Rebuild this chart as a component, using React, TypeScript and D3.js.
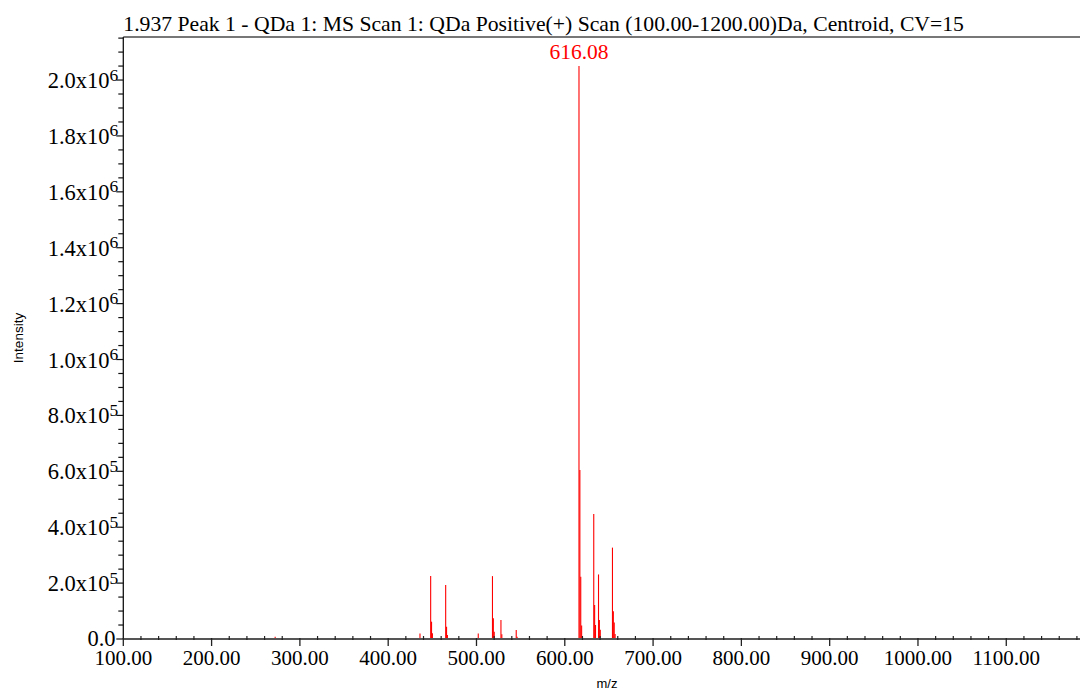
import React from "react";
import * as d3 from "d3";

const W = 1080;
const H = 691;

// Peak list: m/z and intensity (counts)
const peakMz = [
  272, 436, 448.1, 449.1, 450.1, 465.1, 466.1, 467.1, 502, 518.1, 519.1, 520.1,
  527.7, 528.7, 545, 546, 602, 616.08, 617.08, 618.08, 619.08, 620.08, 632.8,
  633.8, 634.8, 638.2, 639.2, 640.2, 654, 655, 656, 657, 676, 690, 692,
];
const peakIntensity = [
  8000, 20000, 225000, 62000, 21000, 193000, 44000, 14000, 20000, 225000, 74000,
  26000, 68000, 17000, 32000, 8000, 3000, 2050000, 605000, 223000, 48000, 8000,
  447000, 122000, 50000, 231000, 68000, 33000, 327000, 99000, 59000, 18000, 2000,
  3000, 3000,
];

const labeledPeak = "616.08";
const labeledPeakMz = 616.08;
const labeledPeakIntensity = 2050000;

const xMajorTicks = [100, 200, 300, 400, 500, 600, 700, 800, 900, 1000, 1100];
const xTickLabels = ["100.00", "200.00", "300.00", "400.00", "500.00", "600.00", "700.00", "800.00", "900.00", "1000.00", "1100.00"];
const yMajorTicks = [0, 200000, 400000, 600000, 800000, 1000000, 1200000, 1400000, 1600000, 1800000, 2000000];
const yTickBase = ["0.0", "2.0x10", "4.0x10", "6.0x10", "8.0x10", "1.0x10", "1.2x10", "1.4x10", "1.6x10", "1.8x10", "2.0x10"];
const yTickExp = ["", "5", "5", "5", "5", "6", "6", "6", "6", "6", "6"];

const title = "1.937 Peak 1 - QDa 1: MS Scan 1: QDa Positive(+) Scan (100.00-1200.00)Da, Centroid, CV=15";

const serif = "'Liberation Serif', 'Times New Roman', Times, serif";
const sans = "'Liberation Sans', Arial, Helvetica, sans-serif";

export default function App() {
  const left = 123.3;
  const right = 1080;
  const top = 37;
  const bottom = 639;

  const x = d3.scaleLinear().domain([100, 1183.5]).range([left, right]);
  const y = d3.scaleLinear().domain([0, 2154000]).range([bottom, top]);

  const xMinor = d3.range(100, 1184, 20).filter((v) => v % 100 !== 0);
  const yMinor = d3.range(0, 2150001, 50000).filter((v) => v % 200000 !== 0);

  return (
    <svg
      width={W}
      height={H}
      style={{ position: "absolute", left: 0, top: 0, background: "#fff" }}
    >
      {/* title */}
      <text x={left} y={31} fontFamily={serif} fontSize={21.7} fill="#000">
        {title}
      </text>
      {/* top border */}
      <line x1={left} x2={right} y1={top} y2={top} stroke="#777" strokeWidth={2} />

      {/* peaks */}
      <g>
        {peakMz.map((m, i) => (
          <line
            key={i}
            x1={x(m)}
            x2={x(m)}
            y1={y(0)}
            y2={y(peakIntensity[i])}
            stroke="#ff0000"
            strokeWidth={1.1}
          />
        ))}
      </g>
      <text
        x={x(labeledPeakMz)}
        y={y(labeledPeakIntensity) - 7.5}
        textAnchor="middle"
        fontFamily={serif}
        fontSize={21.5}
        fill="#ff0000"
      >
        {labeledPeak}
      </text>

      {/* y axis */}
      <line x1={left} x2={left} y1={top} y2={bottom} stroke="#111" strokeWidth={1.3} />
      {yMinor.map((v) => (
        <line key={"ym" + v} x1={left - 5} x2={left} y1={y(v)} y2={y(v)} stroke="#111" strokeWidth={1.2} />
      ))}
      {yMajorTicks.map((v, i) => (
        <g key={"yM" + v}>
          <line x1={left - 7} x2={left} y1={y(v)} y2={y(v)} stroke="#111" strokeWidth={1.2} />
          {yTickExp[i] ? (
            <>
              <text x={109.5} y={y(v) + 8} textAnchor="end" fontFamily={serif} fontSize={22.5} fill="#000">
                {yTickBase[i]}
              </text>
              <text x={109.5} y={y(v) + 0.5} fontFamily={serif} fontSize={17.5} fill="#000">
                {yTickExp[i]}
              </text>
            </>
          ) : (
            <text x={115.5} y={y(v) + 7} textAnchor="end" fontFamily={serif} fontSize={22.5} fill="#000">
              {yTickBase[i]}
            </text>
          )}
        </g>
      ))}

      {/* x axis */}
      <line x1={left} x2={right} y1={bottom} y2={bottom} stroke="#555" strokeWidth={2} />
      {xMinor.map((v) => (
        <line key={"xm" + v} x1={x(v)} x2={x(v)} y1={bottom - 3} y2={bottom + 1} stroke="#222" strokeWidth={1.2} />
      ))}
      {xMajorTicks.map((v, i) => (
        <g key={"xM" + v}>
          <line x1={x(v)} x2={x(v)} y1={bottom - 1} y2={bottom + 7} stroke="#222" strokeWidth={1.3} />
          <text x={x(v)} y={665} textAnchor="middle" fontFamily={serif} fontSize={21} fill="#000">
            {xTickLabels[i]}
          </text>
        </g>
      ))}

      {/* axis titles */}
      <text x={607} y={688} textAnchor="middle" fontFamily={sans} fontSize={13} fill="#000">
        m/z
      </text>
      <text
        transform="translate(23,338) rotate(-90)"
        textAnchor="middle"
        fontFamily={sans}
        fontSize={13.5}
        fill="#000"
      >
        Intensity
      </text>
    </svg>
  );
}
